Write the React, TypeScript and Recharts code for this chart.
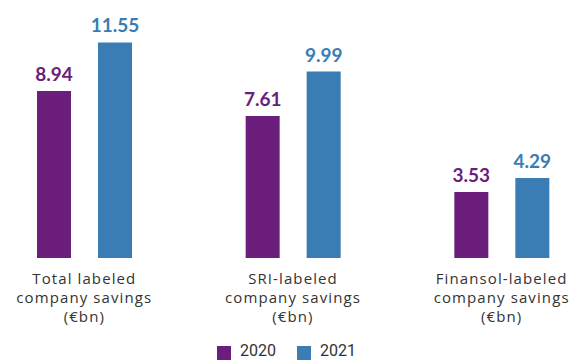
import { Bar, BarChart, LabelList, XAxis, YAxis } from "recharts";

const categories = [
  "Total labeled|company savings|(€bn)",
  "SRI-labeled|company savings|(€bn)",
  "Finansol-labeled|company savings|(€bn)",
];
const values2020 = [8.94, 7.61, 3.53];
const values2021 = [11.55, 9.99, 4.29];
const seriesNames = ["2020", "2021"];

const PURPLE = "#6b1e7b";
const BLUE = "#3a7db4";
const TEXT = "#333333";
const AXIS_FONT = "'Open Sans', sans-serif";
const LABEL_FONT = "Lato, sans-serif";

const data = categories.map((name, i) => ({
  name,
  v2020: values2020[i],
  v2021: values2021[i],
}));

function CategoryTick(props: any) {
  const { x, y, payload } = props;
  const lines = String(payload.value).split("|");
  return (
    <text
      x={x}
      y={y}
      textAnchor="middle"
      fill={TEXT}
      fontSize={15}
      letterSpacing={1.1}
      fontFamily={AXIS_FONT}
    >
      {lines.map((line, i) => (
        <tspan key={i} x={x} dy={i === 0 ? 26 : 19}>
          {line}
        </tspan>
      ))}
    </text>
  );
}

export default function App() {
  return (
    <div
      style={{
        position: "absolute",
        left: 0,
        top: 0,
        width: 572,
        height: 361,
        overflow: "hidden",
        background: "#fff",
      }}
    >
      <div style={{ position: "absolute", left: -20, top: 0, width: 626, height: 361 }}>
        <BarChart
          width={626}
          height={361}
          data={data}
          margin={{ top: 34, right: 0, left: 0, bottom: 3 }}
          barGap={27}
          barSize={34}
        >
          <XAxis
            dataKey="name"
            axisLine={false}
            tickLine={false}
            tickSize={0}
            tickMargin={0}
            height={100}
            interval={0}
            tick={<CategoryTick />}
          />
          <YAxis hide domain={[0, 12]} />
          <Bar dataKey="v2020" name={seriesNames[0]} fill={PURPLE} isAnimationActive={false}>
            <LabelList
              dataKey="v2020"
              position="top"
              offset={10}
              fill={PURPLE}
              fontSize={19}
              fontWeight={700}
              fontFamily={LABEL_FONT}
              formatter={(v: any) => Number(v).toFixed(2)}
            />
          </Bar>
          <Bar dataKey="v2021" name={seriesNames[1]} fill={BLUE} isAnimationActive={false}>
            <LabelList
              dataKey="v2021"
              position="top"
              offset={10}
              fill={BLUE}
              fontSize={19}
              fontWeight={700}
              fontFamily={LABEL_FONT}
              formatter={(v: any) => Number(v).toFixed(2)}
            />
          </Bar>
        </BarChart>
        {seriesNames.map((s, i) => (
          <div key={s}>
            <span
              style={{
                position: "absolute",
                left: 237 + i * 80,
                top: 346,
                width: 14,
                height: 14,
                background: i === 0 ? PURPLE : BLUE,
              }}
            />
            <span
              style={{
                position: "absolute",
                left: 260 + i * 80,
                top: 343,
                fontFamily: "Roboto, sans-serif",
                fontSize: 16,
                lineHeight: "16px",
                color: TEXT,
                whiteSpace: "nowrap",
              }}
            >
              {s}
            </span>
          </div>
        ))}
      </div>
    </div>
  );
}
